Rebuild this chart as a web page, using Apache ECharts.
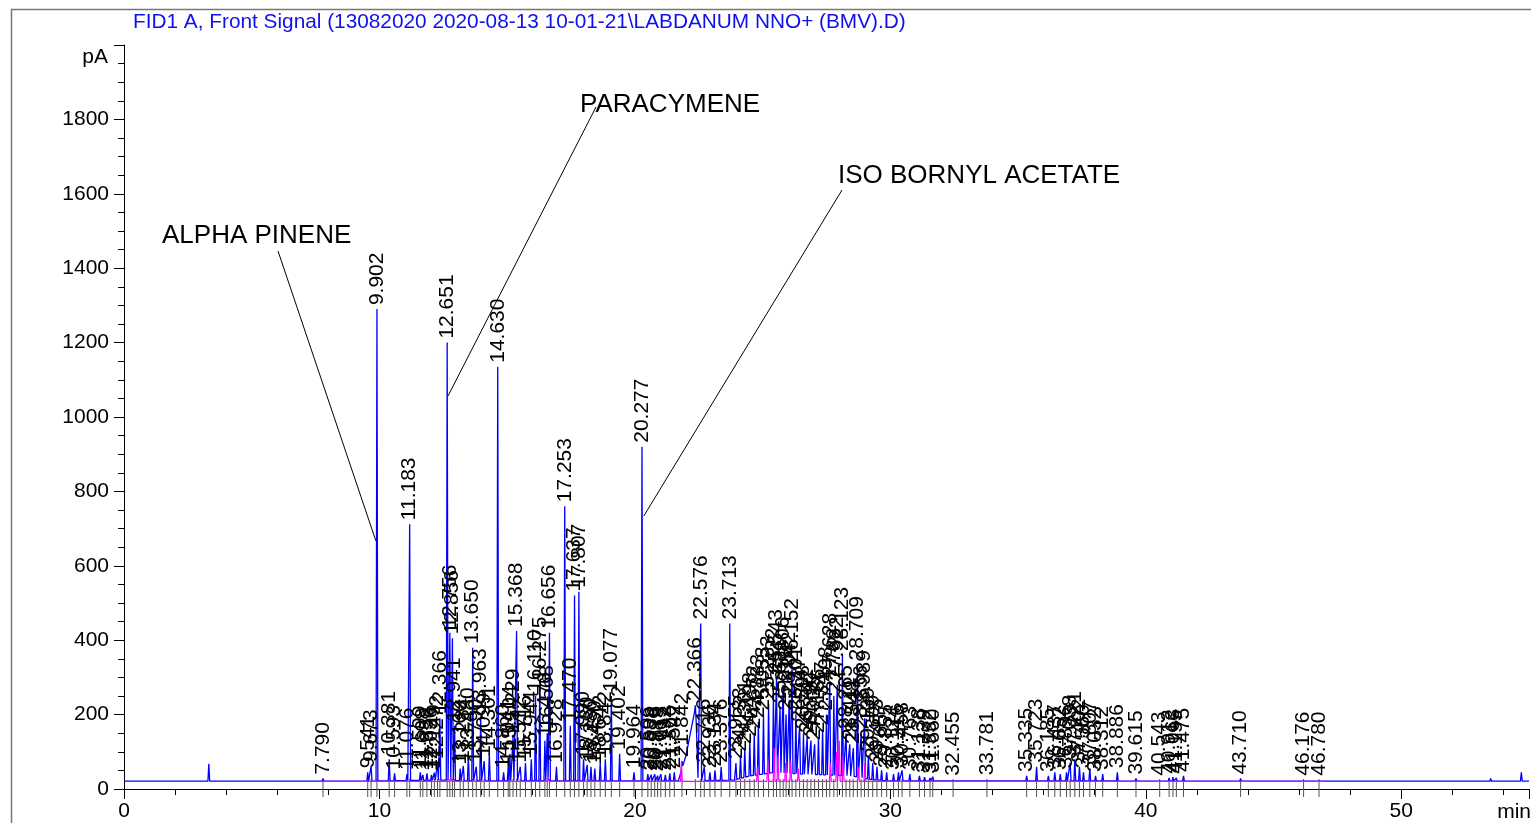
<!DOCTYPE html>
<html><head><meta charset="utf-8">
<script src="https://cdn.jsdelivr.net/npm/echarts@6/dist/echarts.min.js"></script>
<style>html,body{margin:0;padding:0;background:#fff}#c{width:1531px;height:823px}</style>
</head><body><div id="c"></div>
<script>
// ---- DATA ----
const titleText = 'FID1 A, Front Signal (13082020 2020-08-13 10-01-21\\LABDANUM NNO+ (BMV).D)';
const peakTimes = [7.790,9.541,9.673,9.902,10.381,10.593,11.076,11.183,11.599,11.698,11.858,12.036,12.149,12.272,12.366,12.651,12.756,12.856,12.941,13.160,13.284,13.480,13.650,13.790,13.963,14.099,14.301,14.630,14.860,15.041,15.104,15.229,15.368,15.512,15.716,15.944,16.110,16.275,16.476,16.568,16.656,16.928,17.253,17.470,17.637,17.807,17.990,18.130,18.280,18.430,18.642,18.842,19.077,19.402,19.964,20.277,20.506,20.638,20.776,20.889,21.015,21.192,21.366,21.542,21.842,22.366,22.576,22.716,22.936,23.134,23.376,23.713,23.955,24.133,24.301,24.498,24.672,24.833,25.033,25.233,25.422,25.543,25.681,25.806,25.918,26.042,26.152,26.301,26.447,26.598,26.742,26.890,27.035,27.186,27.347,27.498,27.628,27.788,27.922,28.123,28.265,28.411,28.548,28.709,28.856,28.989,29.139,29.309,29.475,29.657,29.855,30.124,30.316,30.458,30.763,31.138,31.339,31.552,31.660,32.455,33.781,35.335,35.723,36.185,36.437,36.652,36.896,37.038,37.221,37.402,37.560,37.807,38.032,38.312,38.886,39.615,40.543,40.912,41.063,41.195,41.475,43.710,46.176,46.780];
const peakHeights = [28,45,62,1290,80,42,40,712,45,38,42,38,44,70,190,1200,420,405,170,55,62,90,380,60,195,75,95,1135,45,60,95,140,425,60,70,80,250,280,130,150,420,60,760,170,520,530,80,65,60,55,70,80,250,95,45,920,40,38,40,36,40,38,42,45,75,225,445,60,45,50,60,445,70,90,110,130,150,180,200,230,250,300,220,280,200,240,330,200,170,150,140,130,120,140,160,200,290,250,280,360,150,120,110,335,150,190,90,70,60,50,45,40,45,50,40,35,32,30,33,25,26,35,60,35,45,40,45,70,80,60,45,55,35,40,45,28,25,30,32,30,35,28,25,25];
const extraTimes = [3.32,4.10,5.80,6.50,8.20,8.80,9.20,34.90,42.30,45.00,47.50,52.00,53.50,54.70];
const extraHeights = [68,23,22,23,24,25,26,24,23,23,22,22,28,45];
const backgroundPoints = [[0,21],[9.3,21],[12.5,24],[13.2,22],[21.7,22],[22.0,90],[22.2,160],[22.38,222],[22.47,30],[22.6,22],[23.9,24],[24.5,35],[25.5,45],[26.5,40],[27.5,38],[28.5,35],[29.3,25],[30.0,22],[47.0,21],[55,21]];
const pinkTimes = [12.80,16.60,21.82,24.80,25.20,25.45,25.60,25.90,26.10,26.40,27.65,27.90,28.00,28.15,28.75,29.00];
const pinkHeights = [32,30,72,60,80,110,90,70,75,55,70,100,130,90,60,70];
const pinkBaseline = [[7.7,20.5],[47.0,20.5]];
const annotNames = ['ALPHA PINENE','PARACYMENE','ISO BORNYL ACETATE'];
const annotTimes = [9.86,12.68,20.35];
const annotValues = [667,1056,734];
const xTickValues = [0,10,20,30,40,50];
const yTickValues = [0,200,400,600,800,1000,1200,1400,1600,1800];

// ---- layout (pixels, not data) ----
const annotLayout = [
  {tx:162, ty:236, lx:278, ly:251},
  {tx:580, ty:105, lx:596, ly:107},
  {tx:838, ty:176, lx:842, ly:190}
];
const FONT = 'Liberation Sans, Arial, sans-serif';

function bg(t){
  for(let i=0;i<backgroundPoints.length-1;i++){
    const a=backgroundPoints[i], b=backgroundPoints[i+1];
    if(t>=a[0] && t<=b[0]) return a[1]+(b[1]-a[1])*(t-a[0])/(b[0]-a[0]);
  }
  return 21;
}
const HW = 0.035;
const allPeaks = peakTimes.map((t,i)=>[t,peakHeights[i]]).concat(extraTimes.map((t,i)=>[t,extraHeights[i]])).sort((a,b)=>a[0]-b[0]);
let sig = [];
allPeaks.forEach(p=>{
  const h = Math.max(p[1], bg(p[0]));
  sig.push([p[0]-HW, bg(p[0]-HW)],[p[0],h],[p[0]+HW,bg(p[0]+HW)]);
});
backgroundPoints.forEach(b=>{
  if(!allPeaks.some(p=>Math.abs(p[0]-b[0])<HW*1.5)) sig.push(b);
});
sig.sort((a,b)=>a[0]-b[0]);

let pink = [pinkBaseline[0]];
pinkTimes.forEach((t,i)=>{ pink.push([t-HW,20.5],[t,pinkHeights[i]],[t+HW,20.5]); });
pink.push(pinkBaseline[1]);

const chart = echarts.init(document.getElementById('c'), null, {renderer:'canvas'});
chart.setOption({
  animation:false,
  backgroundColor:'#fff',
  grid:{left:124, top:45, width:1405, height:744, containLabel:false},
  xAxis:{type:'value', min:0, max:55, interval:10,
    axisLine:{onZero:false, lineStyle:{color:'#000',width:1}},
    axisTick:{show:true, length:10, lineStyle:{color:'#000'}},
    minorTick:{show:true, splitNumber:5, length:6, lineStyle:{color:'#000'}},
    axisLabel:{color:'#000', fontSize:21, fontFamily:FONT, margin:12, showMaxLabel:false,
      formatter:v=> xTickValues.indexOf(v)>=0 ? String(v) : ''},
    splitLine:{show:false}},
  yAxis:{type:'value', min:0, max:2000, interval:200,
    axisLine:{show:true, lineStyle:{color:'#000',width:1}},
    axisTick:{show:true, length:10, lineStyle:{color:'#000'}},
    minorTick:{show:true, splitNumber:4, length:6, lineStyle:{color:'#000'}},
    axisLabel:{color:'#000', fontSize:21, fontFamily:FONT, margin:15,
      formatter:v=> yTickValues.indexOf(v)>=0 ? String(v) : ''},
    splitLine:{show:false}},
  graphic:[
    {type:'rect', shape:{x:11.5,y:9.5,width:1530,height:830}, style:{fill:'none', stroke:'#777', lineWidth:1.5}, z:-1, silent:true},
    {type:'text', x:133, y:22, style:{text:titleText, fill:'#1010ee', font:'20.8px '+FONT, verticalAlign:'middle', align:'left'}},
    {type:'text', x:108, y:57, style:{text:'pA', fill:'#000', font:'21px '+FONT, verticalAlign:'middle', align:'right'}},
    {type:'text', x:1531, y:812, style:{text:'min', fill:'#000', font:'21px '+FONT, verticalAlign:'middle', align:'right'}}
  ],
  series:[
    {type:'line', data:sig, showSymbol:false, symbol:'none', lineStyle:{color:'#0000ff', width:1.3}, z:3, clip:false},
    {type:'line', data:pink, showSymbol:false, symbol:'none', lineStyle:{color:'#ff00ff', width:1.2}, z:4, clip:false},
    {type:'custom', data:peakTimes.map(t=>[t,0]), z:2,
      renderItem:(params,api)=>{
        const p = api.coord([api.value(0),0]);
        return {type:'line', shape:{x1:p[0],y1:p[1]-10,x2:p[0],y2:p[1]+8}, style:{stroke:'#555', lineWidth:1}};
      }},
    {type:'custom', data:peakTimes.map((t,i)=>[t,peakHeights[i]]), z:5,
      renderItem:(params,api)=>{
        const t = api.value(0);
        const p = api.coord([t, api.value(1)]);
        return {type:'text', x:p[0], y:p[1]-4, rotation:Math.PI/2,
          style:{text:t.toFixed(3), fill:'#000', font:'21px '+FONT, align:'left', verticalAlign:'middle'}};
      }},
    {type:'custom', data:annotTimes.map((t,i)=>[t,annotValues[i],i]), z:6,
      renderItem:(params,api)=>{
        const i = api.value(2);
        const p = api.coord([api.value(0), api.value(1)]);
        const L = annotLayout[i];
        return {type:'group', children:[
          {type:'line', shape:{x1:L.lx,y1:L.ly,x2:p[0],y2:p[1]}, style:{stroke:'#000', lineWidth:1}},
          {type:'text', x:L.tx, y:L.ty, style:{text:annotNames[i], fill:'#000', font:'26px '+FONT, align:'left', verticalAlign:'middle'}}
        ]};
      }}
  ]
});
</script></body></html>
